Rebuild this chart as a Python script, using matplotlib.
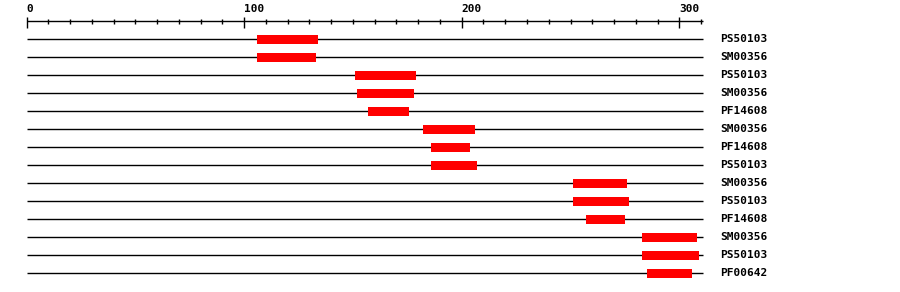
import matplotlib
matplotlib.use("Agg")
import matplotlib.pyplot as plt

# --- Data (domain hits along the sequence) ---
seq_len = 311
domain_ids = ["PS50103", "SM00356", "PS50103", "SM00356", "PF14608",
              "SM00356", "PF14608", "PS50103", "SM00356", "PS50103",
              "PF14608", "SM00356", "PS50103", "PF00642"]
dom_start = [106, 106, 151, 152, 157, 182, 186, 186, 251, 251, 257, 283, 283, 285]
dom_end = [134, 133, 179, 178, 176, 206, 204, 207, 276, 277, 275, 308, 309, 306]
major_ticks = [0, 100, 200, 300]
minor_step = 10

# --- Layout (pixel based on y, sequence units on x) ---
W, H = 900, 292
PX_PER_UNIT = 2.176
X0_PX = 26.5
AXIS_Y = 21
ROW0_Y = 39
ROW_GAP = 18
BAR_H = 9

fig = plt.figure(figsize=(W / 100, H / 100), dpi=100)
ax = fig.add_axes([0, 0, 1, 1])
ax.set_xlim(-X0_PX / PX_PER_UNIT, (W - X0_PX) / PX_PER_UNIT)
ax.set_ylim(H, 0)
ax.axis("off")

font = dict(family="DejaVu Sans Mono", fontweight="bold", fontsize=8)

# ruler
ax.hlines(AXIS_Y, 0, seq_len, color="black", lw=1)
for t in range(0, seq_len, minor_step):
    if t in major_ticks:
        ax.vlines(t, AXIS_Y - 4, AXIS_Y + 7, color="black", lw=1)
    else:
        ax.vlines(t, AXIS_Y - 2, AXIS_Y + 3, color="black", lw=1)
for t in major_ticks:
    ax.text(t, 12, str(t), ha="left", va="baseline", **font)

# rows: backbone line, then the domain box on top of it
for i, (name, s, e) in enumerate(zip(domain_ids, dom_start, dom_end)):
    y = ROW0_Y + i * ROW_GAP
    ax.hlines(y, 0, seq_len, color="black", lw=1, zorder=1)
    ax.barh(y, e - s, left=s, height=BAR_H, color="#ff0000", lw=0, zorder=3)
    ax.text(seq_len + 7.9, y, name, ha="left", va="center", **font)

fig.savefig("out.png", dpi=100)
